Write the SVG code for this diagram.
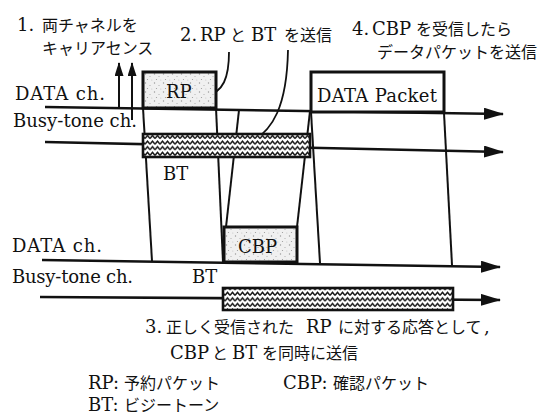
<svg xmlns="http://www.w3.org/2000/svg" width="545" height="417" viewBox="0 0 545 417">
<style>
.lat{font-family:"DejaVu Serif","Liberation Serif",serif;font-size:18px;fill:#111}
.jp{font-family:"Noto Sans CJK JP","Noto Sans CJK SC",sans-serif;font-size:16px;fill:#111}
.ch{fill:none;stroke:#111;stroke-width:2.6}
.prop{fill:none;stroke:#111;stroke-width:2}
.box{stroke:#111;stroke-width:3}
.pkt{fill:url(#speck)}
.bt{fill:url(#zig);stroke:#111;stroke-width:2.6}
.lead{fill:none;stroke:#111;stroke-width:1.8}
</style>
<defs>
<marker id="ah" viewBox="0 0 20 12" refX="19" refY="6" markerUnits="userSpaceOnUse" markerWidth="20" markerHeight="12" orient="auto">
<path d="M0,0 L20,6 L0,12 Z" fill="#111"/>
</marker>
<marker id="ahs" viewBox="0 0 14 9" refX="13" refY="4.5" markerUnits="userSpaceOnUse" markerWidth="14" markerHeight="9" orient="auto">
<path d="M0,0 L14,4.5 L0,9 Z" fill="#111"/>
</marker>
<pattern id="zig" width="5" height="5.6" patternUnits="userSpaceOnUse">
<rect width="5" height="5.6" fill="#fff"/>
<path d="M0,4.2 L2.5,1.2 L5,4.2" fill="none" stroke="#111" stroke-width="1.4"/>
</pattern>
<pattern id="speck" width="9" height="9" patternUnits="userSpaceOnUse">
<rect width="9" height="9" fill="#f0f0f0"/>
<circle cx="1.5" cy="2" r="0.7" fill="#999"/>
<circle cx="6" cy="4.5" r="0.6" fill="#aaa"/>
<circle cx="3.5" cy="7.5" r="0.6" fill="#999"/>
<circle cx="7.8" cy="8" r="0.5" fill="#bbb"/>
</pattern>
</defs>

<g id="connectors">
<line class="ch" x1="45" y1="107" x2="503" y2="114" marker-end="url(#ah)"/>
<line class="ch" x1="45" y1="142" x2="503" y2="152" marker-end="url(#ah)"/>
<line class="ch" x1="42" y1="260" x2="500" y2="267" marker-end="url(#ah)"/>
<line class="ch" x1="40" y1="297" x2="500" y2="300" marker-end="url(#ah)"/>
<line class="prop" x1="119" y1="107" x2="119" y2="63" marker-end="url(#ahs)"/>
<line class="prop" x1="132" y1="120" x2="132" y2="63" marker-end="url(#ahs)"/>
<line class="prop" x1="143" y1="108" x2="152" y2="261"/>
<line class="prop" x1="216" y1="108" x2="223" y2="262"/>
<line class="prop" x1="239" y1="110" x2="226" y2="227"/>
<line class="prop" x1="297" y1="227" x2="310" y2="111"/>
<line class="prop" x1="311" y1="112" x2="320" y2="263"/>
<line class="prop" x1="444" y1="113" x2="452" y2="265"/>
<path class="lead" d="M229,52 C229,76 224,94 204,96"/>
<path class="lead" d="M288,50 C287,100 276,136 240,146"/>
</g>

<g id="bt-top"><rect class="bt" x="143" y="134" width="167" height="23"/><text class="lat" x="163" y="180">BT</text></g>
<g id="bt-bottom"><rect class="bt" x="223" y="288" width="230" height="22"/><text class="lat" x="192" y="283">BT</text></g>
<g id="rp"><rect class="box pkt" x="143" y="72" width="73" height="36"/><text class="lat" x="166" y="98">RP</text></g>
<g id="cbp"><rect class="box pkt" x="224" y="227" width="73" height="35"/><text class="lat" x="238" y="253">CBP</text></g>
<g id="data-packet"><rect class="box" fill="#fff" x="311" y="72" width="133" height="40"/><text class="lat" x="317" y="102" textLength="120">DATA Packet</text></g>

<g id="labels">
<text class="lat" x="15" y="100" textLength="90">DATA ch.</text>
<text class="lat" x="13" y="127" textLength="124">Busy-tone ch.</text>
<text class="lat" x="12" y="252" textLength="90">DATA ch.</text>
<text class="lat" x="12" y="283" textLength="121">Busy-tone ch.</text>
</g>

<g id="note1"><text y="31"><tspan class="lat" x="17">1.</tspan><tspan class="jp" x="42">両チャネルを</tspan></text>
<text class="jp" x="42" y="54">キャリアセンス</text></g>
<g id="note2"><text y="41"><tspan class="lat" x="180">2.</tspan><tspan class="lat" x="200">RP</tspan><tspan class="jp" x="230">と</tspan><tspan class="lat" x="251">BT</tspan><tspan class="jp" x="284">を送信</tspan></text></g>
<g id="note4"><text y="35"><tspan class="lat" x="352">4.</tspan><tspan class="lat" x="372">CBP</tspan><tspan class="jp" x="416">を受信したら</tspan></text>
<text class="jp" x="377" y="58">データパケットを送信</text></g>
<g id="note3"><text y="333"><tspan class="lat" x="145">3.</tspan><tspan class="jp" x="166">正しく受信された</tspan><tspan class="lat" x="306">RP</tspan><tspan class="jp" x="338">に対する応答として</tspan><tspan class="lat" x="484">,</tspan></text>
<text y="359"><tspan class="lat" x="170">CBP</tspan><tspan class="jp" x="212">と</tspan><tspan class="lat" x="232">BT</tspan><tspan class="jp" x="262">を同時に送信</tspan></text></g>
<g id="legend"><text y="389"><tspan class="lat" x="88">RP:</tspan><tspan class="jp" x="124">予約パケット</tspan><tspan class="lat" x="283">CBP:</tspan><tspan class="jp" x="333">確認パケット</tspan></text>
<text y="411"><tspan class="lat" x="88">BT:</tspan><tspan class="jp" x="124">ビジートーン</tspan></text></g>
</svg>
